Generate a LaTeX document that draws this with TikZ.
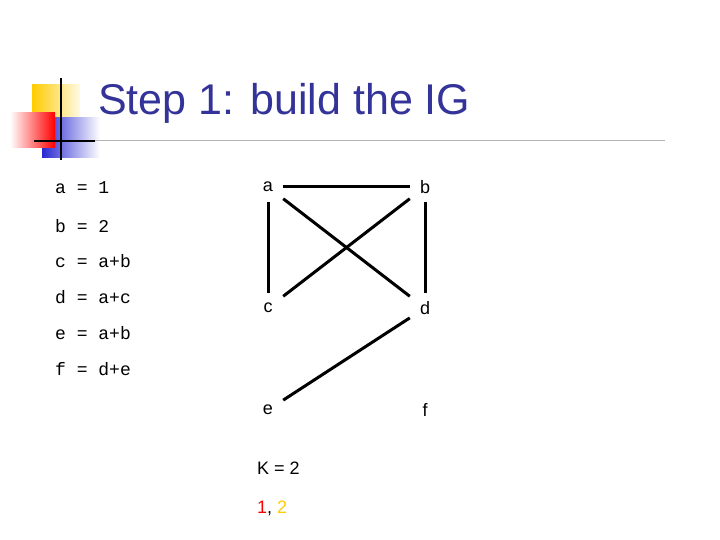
\documentclass[tikz,border=0pt]{standalone}
\usepackage{fontspec}
\setmainfont{Liberation Sans}
\setmonofont{Liberation Mono}
\definecolor{ttl}{RGB}{51,51,153}
\definecolor{lyel}{RGB}{255,204,0}
\definecolor{lred}{RGB}{255,0,0}
\definecolor{lblue}{RGB}{40,40,210}
\begin{document}
\begin{tikzpicture}[x=1pt,y=-1pt,
  vtx/.style={font=\fontsize{18}{18}\selectfont, minimum size=30pt, inner sep=0pt},
  code/.style={font=\ttfamily\fontsize{18}{18}\selectfont, anchor=west, inner sep=0pt},
  edge/.style={line width=3pt}]
\useasboundingbox[fill=white] (0,0) rectangle (720,540);
% logo
\shade[left color=lyel, right color=lyel!10] (32,85) rectangle (80,120);
\shade[left color=lblue, right color=white] (42,118) rectangle (100,158);
\shade[left color=white, right color=lred] (10,113) rectangle (55,148);
\draw[line width=1pt, gray!60] (34,141) -- (665,141);
\draw[line width=2.5pt] (34,141) -- (95,141);
\draw[line width=2.5pt] (61,78) -- (61,160);
\node[anchor=west, text=ttl, font=\fontsize{43}{43}\selectfont, inner sep=0pt] (title) at (98,103) {Step 1: build the IG};
% code
\node[code] (l1) at (55,188) {a = 1};
\node[code] (l2) at (55,226) {b = 2};
\node[code] (l3) at (55,261) {c = a+b};
\node[code] (l4) at (55,297) {d = a+c};
\node[code] (l5) at (55,333) {e = a+b};
\node[code] (l6) at (55,369) {f = d+e};
% vertices
\node[vtx] (a) at (268,187) {a};
\node[vtx] (b) at (425,187) {b};
\node[vtx] (c) at (268,308) {c};
\node[vtx] (d) at (425,308) {d};
\node[vtx] (e) at (268,410) {e};
\node[vtx] (f) at (425,410) {f};
\draw[edge] (a) -- (b);
\draw[edge] (a) -- (c);
\draw[edge] (b) -- (d);
\draw[edge] (a) -- (d);
\draw[edge] (b) -- (c);
\draw[edge] (e) -- (d);
\node[anchor=west, font=\fontsize{18}{18}\selectfont, inner sep=0pt] (k) at (257,468) {K = 2};
\node[anchor=west, font=\fontsize{18}{18}\selectfont, inner sep=0pt] (col) at (257,508) {\textcolor{red}{1}, \textcolor{lyel}{2}};
\end{tikzpicture}
\end{document}
